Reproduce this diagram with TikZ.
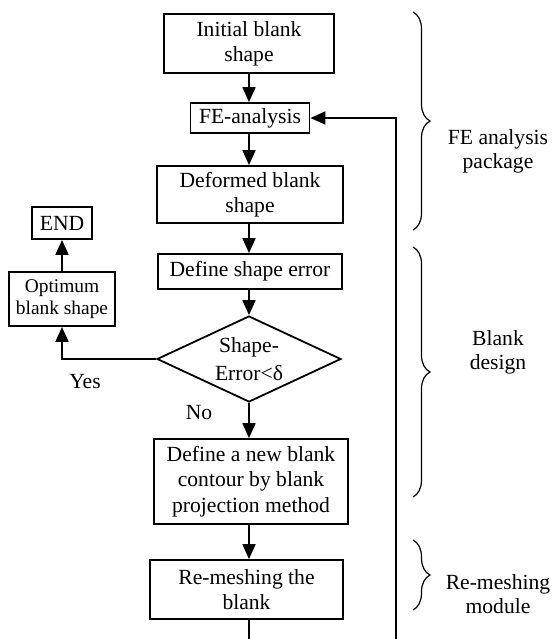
\documentclass[tikz,border=0pt]{standalone}
\usepackage{fontspec}
\setmainfont{Liberation Serif}
\usepackage{tikz}
\usetikzlibrary{shapes.geometric, arrows.meta, positioning, calc, decorations.pathreplacing}
\definecolor{ink}{HTML}{000000}

\tikzset{
  stepbox/.style={draw=ink, line width=0.9pt, align=center, inner sep=1pt,
      font=\fontsize{10.8}{12.7}\selectfont},
  smallbox/.style={stepbox, font=\fontsize{9.7}{10.8}\selectfont},
  arr/.style={line width=0.9pt, ink, -{Triangle[length=7.5pt, width=6.5pt]}},
  wire/.style={line width=0.9pt, ink},
  curly/.style={decorate, decoration={brace, amplitude=8.5pt}, line width=0.6pt},
  sidelabel/.style={align=center, font=\fontsize{10.8}{12}\selectfont}
}

\begin{document}
\begin{tikzpicture}[x=0.5pt, y=-0.5pt]
\useasboundingbox (0,0) rectangle (556,639);
% Blank design loop
\node[stepbox, minimum width=85pt, minimum height=29.5pt] (init) at (249,43.5) {Initial blank\\shape};
\node[stepbox, minimum width=59.5pt, minimum height=15pt] (fea) at (250,118) {FE-analysis};
\node[stepbox, minimum width=93pt, minimum height=28.5pt] (deform) at (250,194.5) {Deformed blank\\shape};
\node[stepbox, minimum width=92pt, minimum height=17.5pt] (shperr) at (250,271.5) {Define shape error};
\node[draw=ink, line width=0.9pt, diamond, aspect=2.14, inner sep=0pt, align=center,
      minimum width=92pt, minimum height=43pt, font=\fontsize{10.8}{14}\selectfont]
      (check) at (249,359) {Shape-\\Error<δ};
\node[stepbox, minimum width=97pt, minimum height=42.5pt] (newcont) at (251,481.5) {Define a new blank\\contour by blank\\projection method};
\node[stepbox, minimum width=96.5pt, minimum height=29.5pt] (remesh) at (246.5,589.5) {Re-meshing the\\blank};
\node[smallbox, minimum width=53pt, minimum height=27pt] (optim) at (62,299) {Optimum\\blank shape};
\node[stepbox, minimum width=30pt, minimum height=16pt] (end) at (62,223) {END};

\node[font=\fontsize{10.8}{12}\selectfont] (yes) at (85,382) {Yes};
\node[font=\fontsize{10.8}{12}\selectfont] (no) at (199,413) {No};

\coordinate (botL) at (249,639);
\coordinate (botR) at (396,639);

\draw[arr] (init.south -| 249,0) -- (fea.north -| 249,0);
\draw[arr] (fea.south -| 249,0) -- (deform.north -| 249,0);
\draw[arr] (deform.south -| 249,0) -- (shperr.north -| 249,0);
\draw[arr] (shperr.south -| check.north) -- (check.north);
\draw[arr] (check.south) -- (newcont.north -| check.south);
\draw[arr] (newcont.south -| 249,0) -- (remesh.north -| 249,0);
\draw[wire] (remesh.south -| botL) -- (botL);
\draw[arr] (botR) |- (fea.east);
\draw[arr] (check.west) -| (optim.south);
\draw[arr] (optim.north) -- (end.south);

% module braces
\draw[curly] (413,12) -- (413,230);
\draw[curly] (413,247) -- (413,497);
\draw[curly] (413,540) -- (413,610);
\node[sidelabel] (fepack) at (498,151) {FE analysis\\package};
\node[sidelabel] (bdesign) at (498,352) {Blank\\design};
\node[sidelabel] (remod) at (498,594) {Re-meshing\\module};
\end{tikzpicture}
\end{document}
